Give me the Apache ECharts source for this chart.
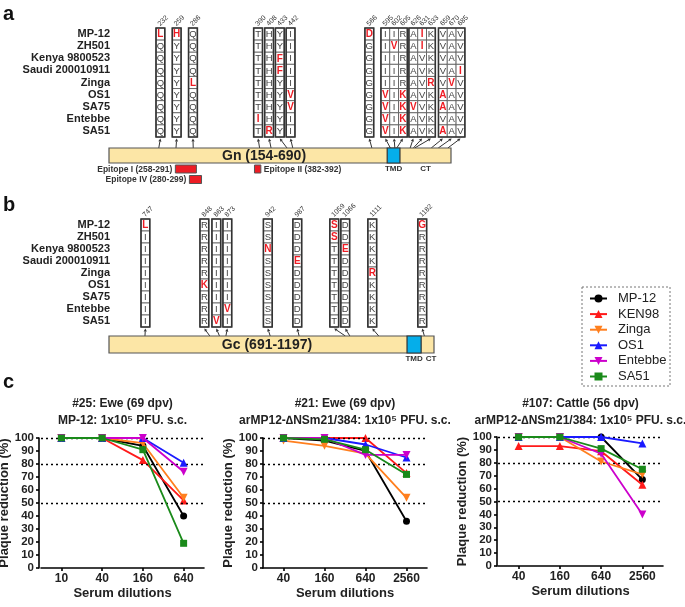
<!DOCTYPE html>
<html><head><meta charset="utf-8">
<script src="https://cdn.jsdelivr.net/npm/echarts@6/dist/echarts.min.js"></script>
<style>html,body{margin:0;padding:0;background:#fff}#c{width:685px;height:607px}</style>
</head><body><div id="c"></div>
<script>
// ---------------- DATA ----------------
const strains = ['MP-12','ZH501','Kenya 9800523','Saudi 200010911','Zinga','OS1','SA75','Entebbe','SA51'];

// Gn residues (one string per position, strains in order above)
const gnPositions = [232,259,286,390,408,433,442,566,595,602,605,626,631,633,659,670,685];
const gnResidues  = ['LQQQQQQQQ','HYYYYYYYY','QQQQLQQQQ','TTTTTTTIT','HHHHHHHHR','YYFFYYYYY','IIIIIVVII',
                     'DGGGGGGGG','IIIIIVVVV','IVIIIIIII','RRRRRKKKK','AAAAAAVAA','IIVVVVVVV','KKKKRKKKK',
                     'VVVVVAAVA','AAAAVAAAA','VVVIVVVVV'];
const gnBoxes = [[232],[259],[286],[390],[408],[433],[442],[566],[595,602,605],[626,631,633],[659,670,685]];
const gnRange = [154, 690];
const gnTMD = [590, 610];
const gnEpitopes = [[258,291],[280,299],[382,392]];
const gnEpitopeNames = ['Epitope I (258-291)','Epitope IV (280-299)','Epitope II (382-392)'];

// Gc residues
const gcPositions = [747,848,863,873,942,987,1059,1066,1111,1182];
const gcResidues  = ['LIIIIIIII','RRRRRKRRR','IIIIIIIIV','IIIIIIIVI','SSNSSSSSS','DDDEDDDDD',
                     'SSTTTTTTT','DDEDDDDDD','KKKKRKKKK','GRRRRRRRR'];
const gcBoxes = [[747],[848],[863],[873],[942],[987],[1059],[1066],[1111],[1182]];
const gcRange = [691, 1197];
const gcTMD = [1155, 1177];

// Plaque reduction neutralisation
const virusNames = ['MP-12','KEN98','Zinga','OS1','Entebbe','SA51'];
const dilutions25 = ['10','40','160','640'];
const dilutions21 = ['40','160','640','2560'];
const dilutions107 = ['40','160','640','2560'];
const ewe25 = [[100,100,94,40],[100,100,83,52],[100,100,96,54],[100,100,100,81],[100,100,100,74],[100,100,91,19]];
const ewe21 = [[100,98,90,36],[100,100,100,73],[98,94,88,54],[100,100,95,85],[100,100,87,87],[100,99,91,72]];
const cattle107 = [[100,100,100,67],[93,93,89,63],[100,100,81,71],[100,100,100,95],[100,100,87,40],[100,100,91,75]];
const refLines = [100, 80, 50];

// ---------------- LAYOUT / STYLE ----------------
const FONT = 'Liberation Sans, Arial, Helvetica, sans-serif';
const CELL = 8.8;
const gnGaps = [0,0.85,0.85,6.4,0.25,0.22,0.22,7.95,0.82,0.18,0.36];
const gcGaps = [0,5.7,0.36,0.25,3.6,2.35,3.2,0.25,2.07,4.68];
const colors = ['#000000','#ff1a1a','#ff7f1e','#1a1aff','#cc00cc','#1a8a1a'];
const INV = 'path://M0,0L10,0L5,10Z';
const symbols = ['circle','triangle',INV,'triangle',INV,'rect'];
const symSizes = [7,8,8,8,8,7];
const RED = '#ee1c24';

function buildAlignment(positions, residues, boxes, gaps){
  let x = 0; const cols = []; const spans = [];
  boxes.forEach((b,i)=>{
    x += gaps[i]; const s = x;
    b.forEach(p=>{ const k = positions.indexOf(p); cols.push({pos:p, res:residues[k], center:x+0.5}); x += 1; });
    spans.push([s, x, 0]);
  });
  const cells = [];
  cols.forEach(c=>{
    const counts = {};
    for (const ch of c.res) counts[ch] = (counts[ch]||0)+1;
    const cons = Object.keys(counts).sort((a,b)=>counts[b]-counts[a])[0];
    [...c.res].forEach((ch,i)=>cells.push({x:c.center, y:i, ch, red: ch!==cons}));
  });
  return {cols, spans, cells, total:x};
}
const alA = buildAlignment(gnPositions, gnResidues, gnBoxes, gnGaps);
const alB = buildAlignment(gcPositions, gcResidues, gcBoxes, gcGaps);

function cellSeries(al, axis){
  return {type:'custom', xAxisIndex:axis, yAxisIndex:axis, silent:true, clip:false,
    data: al.cells.map(c=>[c.x, c.y]),
    renderItem(params, api){
      const c = al.cells[params.dataIndex];
      const p = api.coord([c.x, c.y]);
      const s = api.size([1,1]);
      const w = s[0], h = s[1];
      return {type:'group', children:[
        {type:'rect', shape:{x:p[0]-w/2, y:p[1]-h/2, width:w, height:h}, style:{fill:'#fff', stroke:'#555', lineWidth:0.8}},
        {type:'text', style:{x:p[0], y:p[1]+0.5, text:c.ch, fill:c.red?RED:'#444', fontSize:c.red?10:9.5,
          fontWeight:c.red?'bold':'normal', fontFamily:FONT, align:'center', verticalAlign:'middle'}}
      ]};
    }};
}
function boxSeries(al, axis){
  return {type:'custom', xAxisIndex:axis, yAxisIndex:axis, silent:true, clip:false,
    encode:{x:[0,1], y:2}, data: al.spans,
    renderItem(params, api){
      const p0 = api.coord([api.value(0), 0]);
      const p1 = api.coord([api.value(1), strains.length-1]);
      const h = api.size([1,1])[1];
      return {type:'rect', shape:{x:p0[0], y:p0[1]-h/2, width:p1[0]-p0[0], height:p1[1]-p0[1]+h},
        style:{fill:null, stroke:'#333', lineWidth:1.6}};
    }};
}
function posLabelSeries(al, axis){
  return {type:'custom', xAxisIndex:axis, yAxisIndex:axis, silent:true, clip:false,
    data: al.cols.map(c=>[c.center, 0]),
    renderItem(params, api){
      const c = al.cols[params.dataIndex];
      const p = api.coord([c.center, 0]);
      const h = api.size([1,1])[1];
      return {type:'text', x:p[0]-1.5, y:p[1]-h/2-3, rotation:Math.PI/4,
        style:{x:0, y:0, text:String(c.pos), fontSize:7, fill:'#333', fontFamily:FONT, align:'left', verticalAlign:'middle'}};
    }};
}
function proteinSeries(range, tmd, name, axis, textAnchor){
  return {type:'custom', xAxisIndex:axis, yAxisIndex:axis, silent:true, clip:false,
    encode:{x:[0,1,2,3], y:4}, data:[[range[0], range[1], tmd[0], tmd[1], 0]],
    renderItem(params, api){
      const a = api.coord([range[0], 1]), b = api.coord([range[1], 0]);
      const t0 = api.coord([tmd[0], 1]), t1 = api.coord([tmd[1], 0]);
      const mid = api.coord([textAnchor, 0.5]);
      const ctMid = api.coord([(tmd[1]+range[1])/2, 0]);
      const ctX = Math.max(ctMid[0], t1[0]+10);
      return {type:'group', children:[
        {type:'rect', shape:{x:a[0], y:a[1], width:b[0]-a[0], height:b[1]-a[1]}, style:{fill:'#fce6a6', stroke:'#555', lineWidth:1.2}},
        {type:'rect', shape:{x:t0[0], y:t0[1], width:t1[0]-t0[0], height:t1[1]-t0[1]}, style:{fill:'#05aeea', stroke:'#333', lineWidth:1.2}},
        {type:'text', style:{x:mid[0], y:mid[1]+0.5, text:name, fontSize:14, fontWeight:'bold', fill:'#222', fontFamily:FONT, align:'center', verticalAlign:'middle'}},
        {type:'text', style:{x:(t0[0]+t1[0])/2, y:b[1]+2, text:'TMD', fontSize:8, fontWeight:'bold', fill:'#333', fontFamily:FONT, align:'center', verticalAlign:'top'}},
        {type:'text', style:{x:ctX, y:b[1]+2, text:'CT', fontSize:8, fontWeight:'bold', fill:'#333', fontFamily:FONT, align:'center', verticalAlign:'top'}}
      ]};
    }};
}
const epitopeRows = [0,1,0];
const epitopeSide = ['left','left','right'];
function epitopeSeries(axis){
  return {type:'custom', xAxisIndex:axis, yAxisIndex:axis, silent:true, clip:false,
    encode:{x:[0,1], y:2}, data: gnEpitopes.map(e=>[e[0], e[1], 0]),
    renderItem(params, api){
      const i = params.dataIndex;
      const a = api.coord([api.value(0), 0]), b = api.coord([api.value(1), 0]);
      const top = a[1] + 2 + epitopeRows[i]*10.5;
      const h = 8;
      const left = epitopeSide[i]==='left';
      return {type:'group', children:[
        {type:'rect', shape:{x:a[0], y:top, width:b[0]-a[0], height:h}, style:{fill:'#ed1c24', stroke:'#555', lineWidth:1}},
        {type:'text', style:{x:left?a[0]-3:b[0]+3, y:top+h/2+0.5, text:gnEpitopeNames[i], fontSize:8.5, fontWeight:'bold', fill:'#333',
          fontFamily:FONT, align:left?'right':'left', verticalAlign:'middle'}}
      ]};
    }};
}

// ---------------- GRIDS / AXES ----------------
const grids = [
  {left:156, top:28, width:alA.total*CELL, height:109},
  {left:109, top:148, width:342, height:15},
  {left:141, top:219, width:alB.total*CELL, height:108},
  {left:109, top:336, width:325, height:17},
  {left:41, top:438, width:163, height:130},
  {left:263, top:438, width:164, height:130},
  {left:498, top:437, width:165, height:129}
].map(g=>Object.assign({containLabel:false, outerBoundsMode:'none'}, g));

const hidden = {show:false};
function alignY(grid, margin){
  return {type:'category', gridIndex:grid, data:strains, inverse:true,
    axisLine:hidden, axisTick:hidden, splitLine:hidden,
    axisLabel:{interval:0, margin, fontSize:11, fontWeight:'bold', color:'#222', fontFamily:FONT}};
}
const xAxes = [
  {type:'value', gridIndex:0, min:0, max:alA.total, show:false},
  {type:'value', gridIndex:1, min:gnRange[0], max:gnRange[1], show:false},
  {type:'value', gridIndex:2, min:0, max:alB.total, show:false},
  {type:'value', gridIndex:3, min:gcRange[0], max:gcRange[1], show:false}
];
const yAxes = [
  alignY(0, 46),
  {type:'value', gridIndex:1, min:0, max:1, show:false},
  alignY(2, 31),
  {type:'value', gridIndex:3, min:0, max:1, show:false}
];
const axLine = {show:true, lineStyle:{color:'#000', width:1.6}};
const plots = [
  {data:ewe25, cats:dilutions25, off:2, title:'#25: Ewe (69 dpv)\nMP-12: 1x10\u2075 PFU. s.c.'},
  {data:ewe21, cats:dilutions21, off:0, title:'#21: Ewe (69 dpv)\narMP12-\u2206NSm21/384: 1x10\u2075 PFU. s.c.'},
  {data:cattle107, cats:dilutions107, off:1, title:'#107: Cattle (56 dpv)\narMP12-\u2206NSm21/384: 1x10\u2075 PFU. s.c.'}
];
const series = [
  cellSeries(alA,0), boxSeries(alA,0), posLabelSeries(alA,0),
  proteinSeries(gnRange, gnTMD, 'Gn (154-690)', 1, 397), epitopeSeries(1),
  cellSeries(alB,2), boxSeries(alB,2), posLabelSeries(alB,2),
  proteinSeries(gcRange, gcTMD, 'Gc (691-1197)', 3, 937)
];
const titles = [];
plots.forEach((pl, k)=>{
  const gi = 4+k;
  xAxes.push({type:'category', gridIndex:gi, data:pl.cats, boundaryGap:true,
    axisLine:axLine, axisTick:{show:true, alignWithLabel:true, length:3, lineStyle:{color:'#000', width:1.6}},
    axisLabel:{margin:5, fontSize:12, fontWeight:'bold', color:'#222', fontFamily:FONT},
    name:'Serum dilutions', nameLocation:'middle', nameGap:19,
    nameTextStyle:{fontSize:13, fontWeight:'bold', color:'#222', fontFamily:FONT}});
  yAxes.push({type:'value', gridIndex:gi, min:0, max:100, interval:10, offset:pl.off,
    axisLine:axLine, axisTick:{show:true, length:3, lineStyle:{color:'#000', width:1.6}},
    axisLabel:{margin:5, fontSize:11.5, fontWeight:'bold', color:'#222', fontFamily:FONT},
    splitLine:hidden,
    name:'Plaque reduction (%)', nameLocation:'middle', nameGap:21, nameRotate:90,
    nameTextStyle:{fontSize:13, fontWeight:'bold', color:'#222', fontFamily:FONT}});
  const g = grids[gi];
  titles.push({text:pl.title, left:g.left+g.width/2, top:395, textAlign:'center', padding:0,
    textStyle:{fontSize:12, fontWeight:'bold', color:'#222', lineHeight:17, fontFamily:FONT}});
  pl.data.forEach((vals, si)=>{
    const s = {type:'line', name:virusNames[si], xAxisIndex:gi, yAxisIndex:gi, data:vals,
      color:colors[si], symbol:symbols[si], symbolSize:symSizes[si], showAllSymbol:true,
      lineStyle:{width:1.8, color:colors[si]}, itemStyle:{color:colors[si]}, z:3+si};
    if (si===0) s.markLine = {silent:true, symbol:'none', label:{show:false},
      lineStyle:{type:[2,3], color:'#000', width:1.3}, data:refLines.map(v=>({yAxis:v}))};
    series.push(s);
  });
});

const chart = echarts.init(document.getElementById('c'), null, {renderer:'canvas', width:685, height:607});
chart.setOption({
  animation:false,
  textStyle:{fontFamily:FONT},
  title:titles,
  grid:grids, xAxis:xAxes, yAxis:yAxes, series,
  legend:{data:virusNames, orient:'vertical', left:589, top:291, padding:0, itemWidth:17, itemHeight:10, itemGap:0.6,
    textStyle:{fontSize:13, color:'#222', fontFamily:FONT, lineHeight:15, padding:[0,0,0,6]}}
});

// ---------- arrows (second pass, positions via library coordinate conversion) ----------
function arrows(al, alignAxis, barAxis){
  const els = [];
  al.cols.forEach(c=>{
    const r8 = chart.convertToPixel({xAxisIndex:alignAxis, yAxisIndex:alignAxis}, [c.center, strains.length-1]);
    const r7 = chart.convertToPixel({xAxisIndex:alignAxis, yAxisIndex:alignAxis}, [c.center, strains.length-2]);
    const topY = r8[1] + (r8[1]-r7[1])/2 + 1.5;
    const bot = chart.convertToPixel({xAxisIndex:barAxis, yAxisIndex:barAxis}, [c.pos, 1]);
    const dx = r8[0]-bot[0], dy = topY-bot[1];
    const L = Math.hypot(dx, dy), ux = dx/L, uy = dy/L;
    const hx = r8[0], hy = topY, bl = 3, bw = 1.6;
    els.push({type:'line', silent:true, shape:{x1:bot[0], y1:bot[1], x2:hx-ux*bl, y2:hy-uy*bl}, style:{stroke:'#333', lineWidth:1}});
    els.push({type:'polygon', silent:true, shape:{points:[[hx,hy],[hx-ux*bl-uy*bw, hy-uy*bl+ux*bw],[hx-ux*bl+uy*bw, hy-uy*bl-ux*bw]]}, style:{fill:'#333'}});
  });
  return els;
}
const letters = [['a',3,14],['b',3,205],['c',3,382]].map(l=>({type:'text', x:l[1], y:l[2],
  style:{text:l[0], fontSize:20, fontWeight:'bold', fill:'#111', fontFamily:FONT, verticalAlign:'middle'}}));
chart.setOption({graphic: letters.concat(arrows(alA,0,1), arrows(alB,2,3), [
  {type:'rect', silent:true, shape:{x:582, y:287, width:88, height:99}, style:{fill:null, stroke:'#777', lineWidth:1, lineDash:[2,2]}}
])});
</script></body></html>
